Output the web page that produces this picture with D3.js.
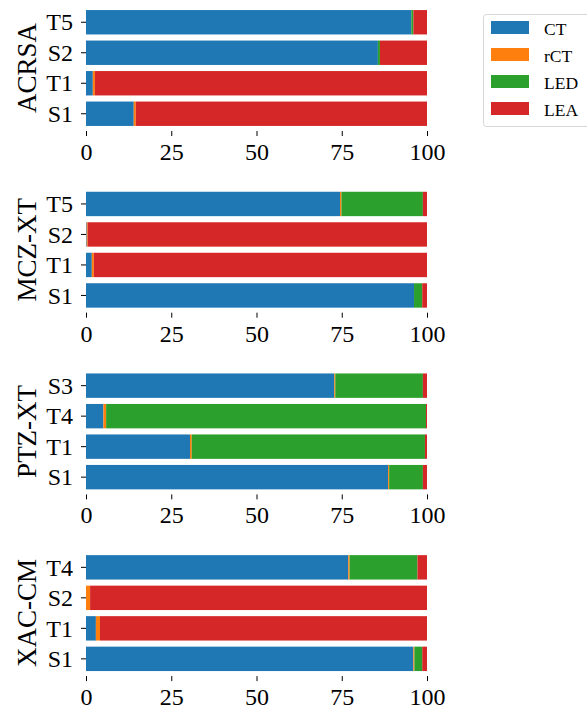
<!DOCTYPE html>
<html>
<head>
<meta charset="utf-8">
<script src="https://cdn.jsdelivr.net/npm/d3@7"></script>
<style>
  body { margin: 0; background: #fff; }
  text { font-family: "Liberation Serif", "Times New Roman", serif; fill: #000; }
</style>
</head>
<body>
<svg id="chart" width="587" height="709"></svg>
<script>
// panels, top to bottom
var groups = ["ACRSA", "MCZ-XT", "PTZ-XT", "XAC-CM"];

// samples per panel, listed bottom to top
var samples = [
	["S1", "T1", "S2", "T5"],
	["S1", "T1", "S2", "T5"],
	["S1", "T1", "T4", "S3"],
	["S1", "T1", "S2", "T4"]
];

// percentages, same order as samples
var ctVals  = [[14.0, 2.0, 85.6, 95.4], [96.2, 1.7, 0.2, 74.5], [88.6, 30.5, 5.1, 72.8], [96.0, 2.9, 0.0, 76.9]];
var rctVals = [[0.6, 0.6, 0.0, 0.0],    [0.0, 0.6, 0.3, 0.4],  [0.3, 0.5, 0.8, 0.3],    [0.3, 1.2, 1.2, 0.4]];
var ledVals = [[0.0, 0.0, 0.6, 0.6],    [2.4, 0.0, 0.0, 23.9], [9.9, 68.4, 93.8, 25.7], [2.3, 0.0, 0.0, 19.9]];
var leaVals = [[85.4, 97.4, 13.8, 4.0], [1.4, 97.7, 99.5, 1.2], [1.2, 0.6, 0.3, 1.2],   [1.4, 95.9, 98.8, 2.8]];

var seriesNames = ["CT", "rCT", "LED", "LEA"];
var xTicks = [0, 25, 50, 75, 100];

var colors = ["#1f77b4", "#ff7f0e", "#2ca02c", "#d62728"];
var seriesVals = [ctVals, rctVals, ledVals, leaVals];

var svg = d3.select("#chart");

var x = d3.scaleLinear()
	.domain([0, 100])
	.range([86, 427]);

var color = d3.scaleOrdinal()
	.domain(seriesNames)
	.range(colors);

var panelTop = 7, panelStep = 181.7, panelH = 122;

groups.forEach(function(grp, gi) {
	var top = panelTop + gi * panelStep;

	// build rows for stacking
	var rows = samples[gi].map(function(s, i) {
		var r = {sample: s};
		seriesNames.forEach(function(n, k) { r[n] = seriesVals[k][gi][i]; });
		return r;
	});

	var stack = d3.stack().keys(seriesNames)(rows);

	var y = d3.scaleBand()
		.domain(samples[gi].slice().reverse())
		.range([top, top + panelH])
		.paddingInner(0.2)
		.paddingOuter(0.1);

	var g = svg.append("g").attr("class", "panel");

	// Draw stacked bars
	g.selectAll(".layer")
		.data(stack)
	  .enter().append("g")
		.attr("class", "layer")
		.attr("fill", function(d) { return color(d.key); })
	  .selectAll("rect")
		.data(function(d) { return d; })
	  .enter().append("rect")
		.attr("x", function(d) { return x(d[0]); })
		.attr("width", function(d) { return Math.max(0, x(d[1]) - x(d[0])); })
		.attr("y", function(d) { return y(d.data.sample); })
		.attr("height", y.bandwidth());

	// y axis (ticks only, no spine)
	var yAxis = d3.axisLeft(y).tickSize(5).tickPadding(8);
	var ya = g.append("g")
		.attr("transform", "translate(" + x(0) + ",0)")
		.call(yAxis);
	ya.select(".domain").remove();
	ya.selectAll("text")
		.style("font-size", "24px")
		.style("font-family", "'Liberation Serif', serif")
		.attr("dy", "0.34em");

	// x axis (ticks only, no spine)
	var axisY = top + panelH + 2;
	var xAxis = d3.axisBottom(x).tickValues(xTicks).tickSize(5).tickPadding(7);
	var xa = g.append("g")
		.attr("transform", "translate(0," + axisY + ")")
		.call(xAxis);
	xa.select(".domain").remove();
	xa.selectAll("text")
		.style("font-size", "24px")
		.style("font-family", "'Liberation Serif', serif");

	// y axis title
	g.append("text")
		.attr("transform", "translate(35.5," + (top + panelH / 2) + ") rotate(-90)")
		.attr("text-anchor", "middle")
		.style("font-size", "27px")
		.text(grp);
});

// Legend
var legend = svg.append("g").attr("class", "legend");
legend.append("rect")
	.attr("x", 483.5)
	.attr("y", 14.5)
	.attr("width", 115)
	.attr("height", 112)
	.attr("rx", 3)
	.attr("fill", "#fff")
	.attr("stroke", "#d6d6d6");

seriesNames.forEach(function(n, i) {
	var ly = 21 + i * 27;
	legend.append("rect")
		.attr("x", 491)
		.attr("y", ly)
		.attr("width", 38)
		.attr("height", 13)
		.attr("fill", color(n));
	legend.append("text")
		.attr("x", 544)
		.attr("y", ly + 14)
		.style("font-size", "17.5px")
		.text(n);
});
</script>
</body>
</html>
